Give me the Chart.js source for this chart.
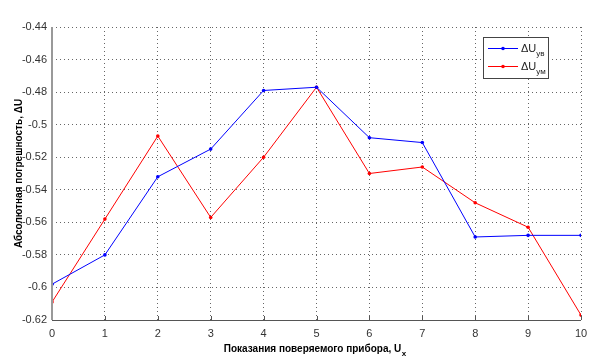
<!DOCTYPE html>
<html>
<head>
<meta charset="utf-8">
<script src="https://cdn.jsdelivr.net/npm/chart.js@4"></script>
<style>
  body { margin: 0; background: #fff; }
  #wrap { position: relative; width: 605px; height: 360px; }
</style>
</head>
<body>
<div id="wrap"><canvas id="chart" width="605" height="360"></canvas></div>
<script>
  // values
  var ux = [0, 1, 2, 3, 4, 5, 6, 7, 8, 9, 10];
  var du_yv = [-0.598, -0.580, -0.532, -0.515, -0.479, -0.477, -0.508, -0.511, -0.569, -0.568, -0.568];
  var du_ym = [-0.609, -0.558, -0.507, -0.557, -0.520, -0.477, -0.530, -0.526, -0.548, -0.563, -0.617];
  var y_ticks = [-0.44, -0.46, -0.48, -0.5, -0.52, -0.54, -0.56, -0.58, -0.6, -0.62];

  function toXY(ys) {
    return ys.map(function(v, i) { return {x: ux[i], y: v}; });
  }

  // solid left/bottom axes, axis titles with subscripts, the boxed legend
  var extras = {
    id: 'extras',
    afterDatasetsDraw: function(chart) {
      var ctx = chart.ctx;
      var area = chart.chartArea;
      ctx.save();
      // bottom axis
      ctx.strokeStyle = '#555';
      ctx.lineWidth = 1;
      ctx.beginPath();
      ctx.moveTo(area.left, area.bottom + 0.5);
      ctx.lineTo(area.right, area.bottom + 0.5);
      ctx.stroke();
      // small ticks pointing in
      chart.scales.x.ticks.forEach(function(t) {
        var px = Math.round(chart.scales.x.getPixelForValue(t.value)) + 0.5;
        ctx.beginPath();
        ctx.moveTo(px, area.bottom);
        ctx.lineTo(px, area.bottom - 4);
        ctx.stroke();
      });
      // left axis
      ctx.strokeStyle = '#999';
      ctx.lineWidth = 2;
      ctx.beginPath();
      ctx.moveTo(area.left, area.top);
      ctx.lineTo(area.left, area.bottom);
      ctx.stroke();
      ctx.restore();
    },
    afterDraw: function(chart) {
      var ctx = chart.ctx;
      var area = chart.chartArea;
      ctx.save();
      ctx.fillStyle = '#000';
      ctx.textBaseline = 'alphabetic';

      // x title
      ctx.font = 'bold 10px "Liberation Sans"';
      var t = 'Показания поверяемого прибора, U';
      var w = ctx.measureText(t).width;
      var cx = (area.left + area.right) / 2 - 4;
      ctx.textAlign = 'left';
      ctx.fillText(t, cx - w / 2, 352);
      ctx.font = 'bold 8px "Liberation Sans"';
      ctx.fillText('x', cx + w / 2 + 0.5, 356);

      // y title
      ctx.translate(22, (area.top + area.bottom) / 2);
      ctx.rotate(-Math.PI / 2);
      ctx.font = 'bold 10px "Liberation Sans"';
      ctx.textAlign = 'center';
      ctx.fillText('Абсолютная погрешность, ΔU', 0, 0);
      ctx.restore();

      // legend
      ctx.save();
      var lx = 483, ly = 37, lw = 65, lh = 41;
      ctx.fillStyle = '#fff';
      ctx.fillRect(lx, ly, lw, lh);
      ctx.strokeStyle = '#444';
      ctx.lineWidth = 1;
      ctx.strokeRect(lx + 0.5, ly + 0.5, lw, lh);
      var items = [
        {c: '#0000ff', main: 'ΔU', sub: 'ув', y: ly + 11},
        {c: '#ff0000', main: 'ΔU', sub: 'ум', y: ly + 29}
      ];
      items.forEach(function(it) {
        ctx.strokeStyle = it.c;
        ctx.beginPath();
        ctx.moveTo(lx + 5, it.y + 0.5);
        ctx.lineTo(lx + 35, it.y + 0.5);
        ctx.stroke();
        ctx.fillStyle = it.c;
        ctx.beginPath();
        ctx.arc(lx + 20, it.y + 0.5, 1.8, 0, Math.PI * 2);
        ctx.fill();
        ctx.fillStyle = '#222';
        ctx.font = '11px "Liberation Sans"';
        ctx.textAlign = 'left';
        ctx.fillText(it.main, lx + 38, it.y + 4);
        var mw = ctx.measureText(it.main).width;
        ctx.font = '8px "Liberation Sans"';
        ctx.fillText(it.sub, lx + 38 + mw, it.y + 8);
      });
      ctx.restore();
    }
  };

  var ctx = document.getElementById('chart');
  var chart = new Chart(ctx, {
    type: 'line',
    data: {
      datasets: [
        {
          label: 'ΔUув',
          data: toXY(du_yv),
          borderColor: '#0000ff',
          backgroundColor: '#0000ff',
          borderWidth: 1,
          pointRadius: 1.8,
          pointBorderWidth: 0,
          tension: 0,
          fill: false
        },
        {
          label: 'ΔUум',
          data: toXY(du_ym),
          borderColor: '#ff0000',
          backgroundColor: '#ff0000',
          borderWidth: 1,
          pointRadius: 1.8,
          pointBorderWidth: 0,
          tension: 0,
          fill: false
        }
      ]
    },
    options: {
      responsive: false,
      animation: false,
      layout: {padding: {left: 0, right: 24, top: 27, bottom: 0}},
      plugins: {
        legend: {display: false},
        tooltip: {enabled: false}
      },
      scales: {
        x: {
          type: 'linear',
          min: 0,
          max: 10,
          afterBuildTicks: function(scale) {
            scale.ticks = ux.map(function(v) { return {value: v}; });
          },
          afterFit: function(scale) { scale.height = 40; },
          ticks: {
            color: '#333',
            font: {family: '"Liberation Sans"', size: 11},
            maxRotation: 0,
            padding: 7
          },
          grid: {
            color: '#666',
            lineWidth: 1,
            drawTicks: false
          },
          border: {display: false, dash: [1, 3]}
        },
        y: {
          min: -0.62,
          max: -0.44,
          afterBuildTicks: function(scale) {
            scale.ticks = y_ticks.map(function(v) { return {value: v}; });
          },
          afterFit: function(scale) { scale.width = 52; },
          ticks: {
            color: '#333',
            font: {family: '"Liberation Sans"', size: 11},
            padding: 5,
            callback: function(v) { return String(parseFloat(v.toFixed(2))); }
          },
          grid: {
            color: '#666',
            lineWidth: 1,
            drawTicks: false
          },
          border: {display: false, dash: [1, 3]}
        }
      }
    },
    plugins: [extras]
  });
</script>
</body>
</html>
